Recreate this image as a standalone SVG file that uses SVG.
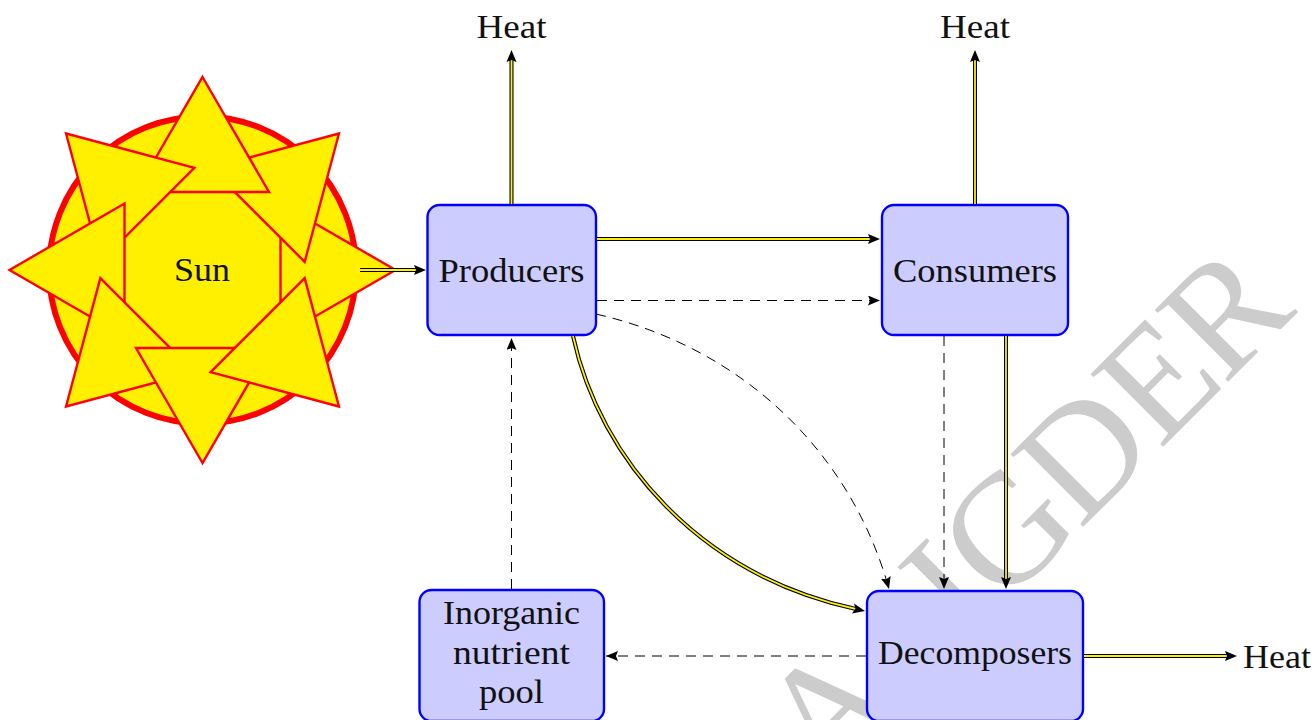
<svg xmlns="http://www.w3.org/2000/svg" width="1315" height="720" viewBox="0 0 1315 720">
<style>
text{font-family:"Liberation Serif","Noto Serif",serif;font-size:33px;fill:#111;text-anchor:middle}
text.wm{font-size:157px;fill:#ccc;text-anchor:start}
.box{fill:#ccf;stroke:#00f;stroke-width:2.4}
.o{fill:none;stroke:#000;stroke-width:4}
.i{fill:none;stroke:#fff000;stroke-width:1.8}
.d{fill:none;stroke:#000;stroke-width:1;stroke-dasharray:10 7}
.tri{fill:#fff000;stroke:#f00;stroke-width:2.4;stroke-linejoin:miter}
</style>
<defs>
<marker id="a" markerUnits="userSpaceOnUse" viewBox="0 0 12 10" refX="12" refY="5" markerWidth="12" markerHeight="10" orient="auto"><path d="M0 0L12 5L0 10L2 5Z" fill="#000"/></marker>
<polygon id="t" class="tri" points="202.5,77 269,192 136,192"/>
</defs>
<text class="wm" transform="translate(800,810) rotate(-45)" x="-73 34 235 287 396 509 600" y="0">TAIGDER</text>
<g id="sun">
<circle cx="202.5" cy="270" r="153.5" fill="#fff000" stroke="#f00" stroke-width="6"/>
<use href="#t" transform="rotate(90 202.5 270)"/>
<use href="#t" transform="rotate(45 202.5 270)"/>
<use href="#t"/>
<use href="#t" transform="rotate(-45 202.5 270)"/>
<use href="#t" transform="rotate(-90 202.5 270)"/>
<use href="#t" transform="rotate(-135 202.5 270)"/>
<use href="#t" transform="rotate(180 202.5 270)"/>
<use href="#t" transform="rotate(135 202.5 270)"/>
<text x="202" y="281" textLength="56" lengthAdjust="spacingAndGlyphs">Sun</text>
</g>
<g id="producers"><rect class="box" x="427.500" y="205" width="168.500" height="130" rx="12"/><text x="511.500" y="282" textLength="146" lengthAdjust="spacingAndGlyphs">Producers</text></g>
<g id="consumers"><rect class="box" x="882" y="205" width="186" height="130" rx="12"/><text x="975" y="282" textLength="164" lengthAdjust="spacingAndGlyphs">Consumers</text></g>
<g id="decomposers"><rect class="box" x="867" y="591" width="216" height="130" rx="12"/><text x="975" y="664" textLength="194" lengthAdjust="spacingAndGlyphs">Decomposers</text></g>
<g id="inorganic"><rect class="box" x="419.500" y="590" width="184.500" height="131" rx="12"/><text x="511.500" y="624" textLength="137" lengthAdjust="spacingAndGlyphs">Inorganic</text><text x="511.500" y="664" textLength="117" lengthAdjust="spacingAndGlyphs">nutrient</text><text x="511.500" y="703" textLength="65" lengthAdjust="spacingAndGlyphs">pool</text></g>
<g id="heat1"><text x="511.500" y="38" textLength="70" lengthAdjust="spacingAndGlyphs">Heat</text></g>
<g id="heat2"><text x="975" y="38" textLength="70" lengthAdjust="spacingAndGlyphs">Heat</text></g>
<g id="heat3"><text x="1277" y="668" textLength="68" lengthAdjust="spacingAndGlyphs">Heat</text></g>
<g id="connectors">
<path class="o" d="M360 270H417"/><path class="i" d="M360 270H417"/><path d="M426 270L414 265L416 270L414 275Z"/>
<path class="o" d="M511.500 204V59"/><path class="i" d="M511.500 204V59"/><path d="M511.500 50L506.500 62L511.500 60L516.500 62Z"/>
<path class="o" d="M975 204V59"/><path class="i" d="M975 204V59"/><path d="M975 50L970 62L975 60L980 62Z"/>
<path class="o" d="M597 239H871"/><path class="i" d="M597 239H871"/><path d="M880 239L868 234L870 239L868 244Z"/>
<path class="o" d="M1006 336V580"/><path class="i" d="M1006 336V580"/><path d="M1006 589L1001 577L1006 579L1011 577Z"/>
<path class="o" d="M1084 656H1228"/><path class="i" d="M1084 656H1228"/><path d="M1237 656L1225 651L1227 656L1225 661Z"/>
<path class="o" d="M573 336C600 460 700 575 856 609"/><path class="i" d="M573 336C600 460 700 575 856 609"/><path d="M865 611L854 603.500L855.500 608.500L852 613.500Z"/>
<path class="d" d="M597 300.500H880" marker-end="url(#a)"/>
<path class="d" d="M596 314C745 348 852 455 889 589" marker-end="url(#a)"/>
<path class="d" d="M944 336V589" marker-end="url(#a)"/>
<path class="d" d="M511.500 589V338" marker-end="url(#a)"/>
<path class="d" d="M866 656H606" marker-end="url(#a)"/>
</g>
</svg>
